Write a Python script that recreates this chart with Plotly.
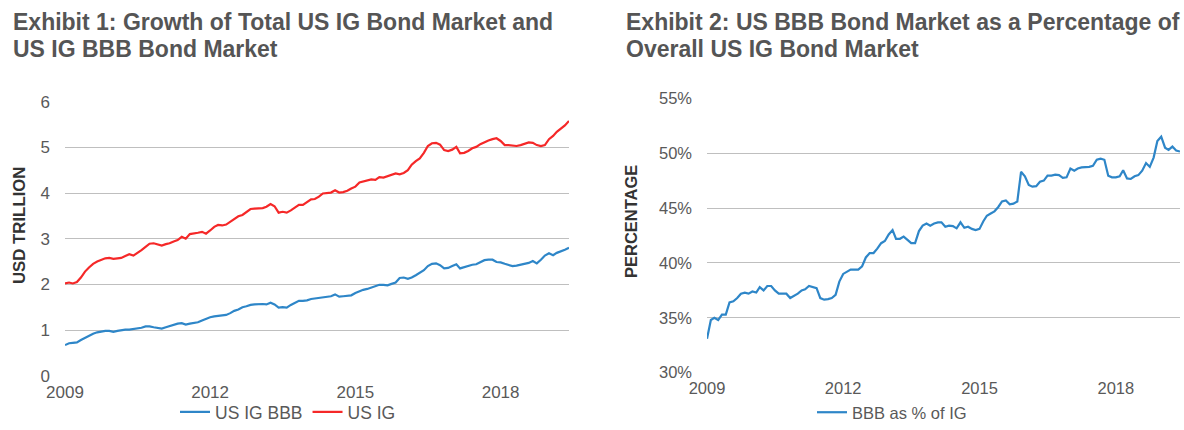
import pandas as pd
import plotly.graph_objects as go

# Monthly dates, Jan 2009 - Jun 2019
dates = pd.date_range("2009-01-01", "2019-06-01", freq="MS")

# USD trillion
us_ig = [
    2.02, 2.04, 2.02, 2.05, 2.15, 2.28, 2.37, 2.45, 2.50, 2.54, 2.57, 2.58,
    2.56, 2.57, 2.58, 2.62, 2.66, 2.63, 2.68, 2.75, 2.82, 2.89, 2.90, 2.87,
    2.85, 2.88, 2.90, 2.94, 2.97, 3.04, 3.00, 3.10, 3.11, 3.13, 3.15, 3.11,
    3.18, 3.26, 3.30, 3.29, 3.31, 3.37, 3.42, 3.49, 3.52, 3.59, 3.65, 3.66,
    3.66, 3.67, 3.70, 3.76, 3.71, 3.57, 3.59, 3.57, 3.62, 3.67, 3.74, 3.74,
    3.80, 3.86, 3.87, 3.92, 3.99, 4.00, 4.01, 4.06, 4.01, 4.02, 4.05, 4.10,
    4.14, 4.23, 4.25, 4.27, 4.30, 4.29, 4.35, 4.34, 4.37, 4.40, 4.43, 4.41,
    4.44, 4.50, 4.62, 4.70, 4.76, 4.88, 5.03, 5.09, 5.10, 5.06, 4.94, 4.92,
    4.95, 5.01, 4.87, 4.88, 4.92, 4.98, 5.01, 5.07, 5.12, 5.15, 5.18, 5.20,
    5.14, 5.05, 5.05, 5.04, 5.03, 5.05, 5.08, 5.11, 5.10, 5.05, 5.03, 5.05,
    5.18, 5.25, 5.34, 5.41, 5.48, 5.58,
]

us_ig_bbb = [
    0.67, 0.71, 0.72, 0.73, 0.78, 0.83, 0.88, 0.92, 0.95, 0.97, 0.98, 0.98,
    0.96, 0.98, 1.00, 1.01, 1.01, 1.02, 1.03, 1.05, 1.08, 1.08, 1.06, 1.05,
    1.03, 1.06, 1.09, 1.11, 1.14, 1.15, 1.12, 1.14, 1.15, 1.17, 1.21, 1.25,
    1.28, 1.30, 1.31, 1.31, 1.33, 1.37, 1.42, 1.45, 1.50, 1.52, 1.55, 1.56,
    1.57, 1.57, 1.56, 1.60, 1.56, 1.49, 1.50, 1.49, 1.55, 1.60, 1.64, 1.64,
    1.65, 1.68, 1.69, 1.70, 1.71, 1.73, 1.74, 1.78, 1.73, 1.74, 1.75, 1.76,
    1.81, 1.85, 1.88, 1.90, 1.93, 1.96, 1.99, 1.99, 1.98, 2.01, 2.04, 2.14,
    2.15, 2.12, 2.15, 2.20, 2.26, 2.31, 2.40, 2.45, 2.46, 2.42, 2.35, 2.36,
    2.40, 2.44, 2.35, 2.38, 2.41, 2.43, 2.44, 2.48, 2.53, 2.54, 2.54, 2.49,
    2.48, 2.45, 2.42, 2.40, 2.41, 2.43, 2.44, 2.47, 2.51, 2.46, 2.54, 2.63,
    2.68, 2.64, 2.69, 2.72, 2.76, 2.80,
]

# BBB as % of IG (percent)
bbb_pct = [
    33.1, 34.8, 35.0, 34.8, 35.3, 35.3, 36.4, 36.5, 36.8, 37.2, 37.3, 37.2,
    37.4, 37.3, 37.8, 37.5, 37.9, 37.9, 37.5, 37.2, 37.2, 37.2, 36.8, 37.0,
    37.2, 37.5, 37.6, 37.9, 37.8, 37.7, 36.8, 36.65, 36.7, 36.8, 37.1, 38.3,
    39.0, 39.2, 39.4, 39.4, 39.4, 39.7, 40.5, 40.9, 40.9, 41.3, 41.8, 42.0,
    42.6, 43.0, 42.2, 42.2, 42.4, 42.1, 41.8, 41.8, 42.9, 43.4, 43.6, 43.4,
    43.6, 43.7, 43.7, 43.3, 43.4, 43.35, 43.15, 43.7, 43.2, 43.3, 43.1, 43.0,
    43.1, 43.8, 44.3, 44.5, 44.7, 45.1, 45.6, 45.7, 45.35, 45.4, 45.6, 48.3,
    47.9, 47.1, 46.95, 47.0, 47.4, 47.5, 47.95, 47.95, 48.05, 48.0, 47.75, 47.8,
    48.6, 48.4, 48.6, 48.7, 48.7, 48.75, 48.85, 49.4, 49.5, 49.4, 47.95, 47.8,
    47.8, 47.9, 48.45, 47.7, 47.65, 47.9, 48.0, 48.4, 49.1, 48.75, 49.6, 51.1,
    51.5, 50.5, 50.3, 50.6, 50.25, 50.15,
]

x_tick_vals = ["2009-01-01", "2012-01-01", "2015-01-01", "2018-01-01"]
x_tick_text = ["2009", "2012", "2015", "2018"]

W, H = 1184, 430
FONT = "Liberation Sans, Arial, sans-serif"
TICK_COLOR = "#595959"
GRID = "#BFBFBF"
BLUE = "#2E86C8"
RED = "#F52828"

def fx(v):
    return v / W

def fy(v):
    return (H - v) / H

fig = go.Figure()
fig.add_trace(go.Scatter(x=dates, y=us_ig_bbb, name="US IG BBB", mode="lines",
                         line=dict(color=BLUE, width=2.2), xaxis="x", yaxis="y", legend="legend"))
fig.add_trace(go.Scatter(x=dates, y=us_ig, name="US IG", mode="lines",
                         line=dict(color=RED, width=2.2), xaxis="x", yaxis="y", legend="legend"))
fig.add_trace(go.Scatter(x=dates, y=[v / 100 for v in bbb_pct], name="BBB as % of IG", mode="lines",
                         line=dict(color=BLUE, width=2.2), xaxis="x2", yaxis="y2", legend="legend2"))

def xaxis_opts(size):
    return dict(type="date", range=["2009-01-01", "2019-06-01"], tickvals=x_tick_vals,
                ticktext=x_tick_text, showgrid=False, zeroline=False, showline=False,
                ticks="", ticklabelstandoff=4, automargin=False,
                tickfont=dict(family=FONT, size=size, color=TICK_COLOR))

def yaxis_opts(size):
    return dict(showgrid=True, gridcolor=GRID, gridwidth=1.2, zeroline=False, showline=False,
                ticks="", ticklabelstandoff=14, automargin=False,
                tickfont=dict(family=FONT, size=size, color=TICK_COLOR))

def legend_opts(x, size):
    return dict(orientation="h", x=fx(x), y=0, xanchor="center", yanchor="bottom",
                font=dict(family=FONT, size=size, color=TICK_COLOR), itemwidth=30,
                bgcolor="rgba(0,0,0,0)", traceorder="normal")

fig.update_layout(
    width=W, height=H,
    margin=dict(l=0, r=0, t=0, b=0),
    paper_bgcolor="white", plot_bgcolor="white",
    font=dict(family=FONT, color=TICK_COLOR),
    xaxis=dict(domain=[fx(65), fx(569)], anchor="y", **xaxis_opts(17)),
    yaxis=dict(domain=[fy(375.7), fy(101.7)], anchor="x", range=[0, 6], dtick=1,
               tickformat="d", **yaxis_opts(17)),
    xaxis2=dict(domain=[fx(707), fx(1180)], anchor="y2", **xaxis_opts(16.5)),
    yaxis2=dict(domain=[fy(372.7), fy(98.3)], anchor="x2", range=[0.30, 0.55],
                dtick=0.05, tickformat=".0%", **yaxis_opts(16.5)),
    legend=legend_opts(288, 17.5),
    legend2=legend_opts(892, 16.5),
    showlegend=True,
)

title_font = dict(family=FONT, size=23, color="#555555")
titles = [
    (11, 22, "<b>Exhibit 1: Growth of Total US IG Bond Market and</b>"),
    (11, 49, "<b>US IG BBB Bond Market</b>"),
    (624, 22, "<b>Exhibit 2: US BBB Bond Market as a Percentage of</b>"),
    (624, 49, "<b>Overall US IG Bond Market</b>"),
]
for x, y, t in titles:
    fig.add_annotation(text=t, xref="paper", yref="paper", x=fx(x), y=fy(y), xanchor="left",
                       yanchor="middle", align="left", showarrow=False, font=title_font)

fig.add_annotation(text="<b>USD TRILLION</b>", xref="paper", yref="paper", x=fx(19), y=fy(226),
                   xanchor="center", yanchor="middle", textangle=-90, showarrow=False,
                   font=dict(family=FONT, size=16.8, color="#333333"))
fig.add_annotation(text="<b>PERCENTAGE</b>", xref="paper", yref="paper", x=fx(631), y=fy(222),
                   xanchor="center", yanchor="middle", textangle=-90, showarrow=False,
                   font=dict(family=FONT, size=16.5, color="#333333"))

fig.write_html("out.html")
